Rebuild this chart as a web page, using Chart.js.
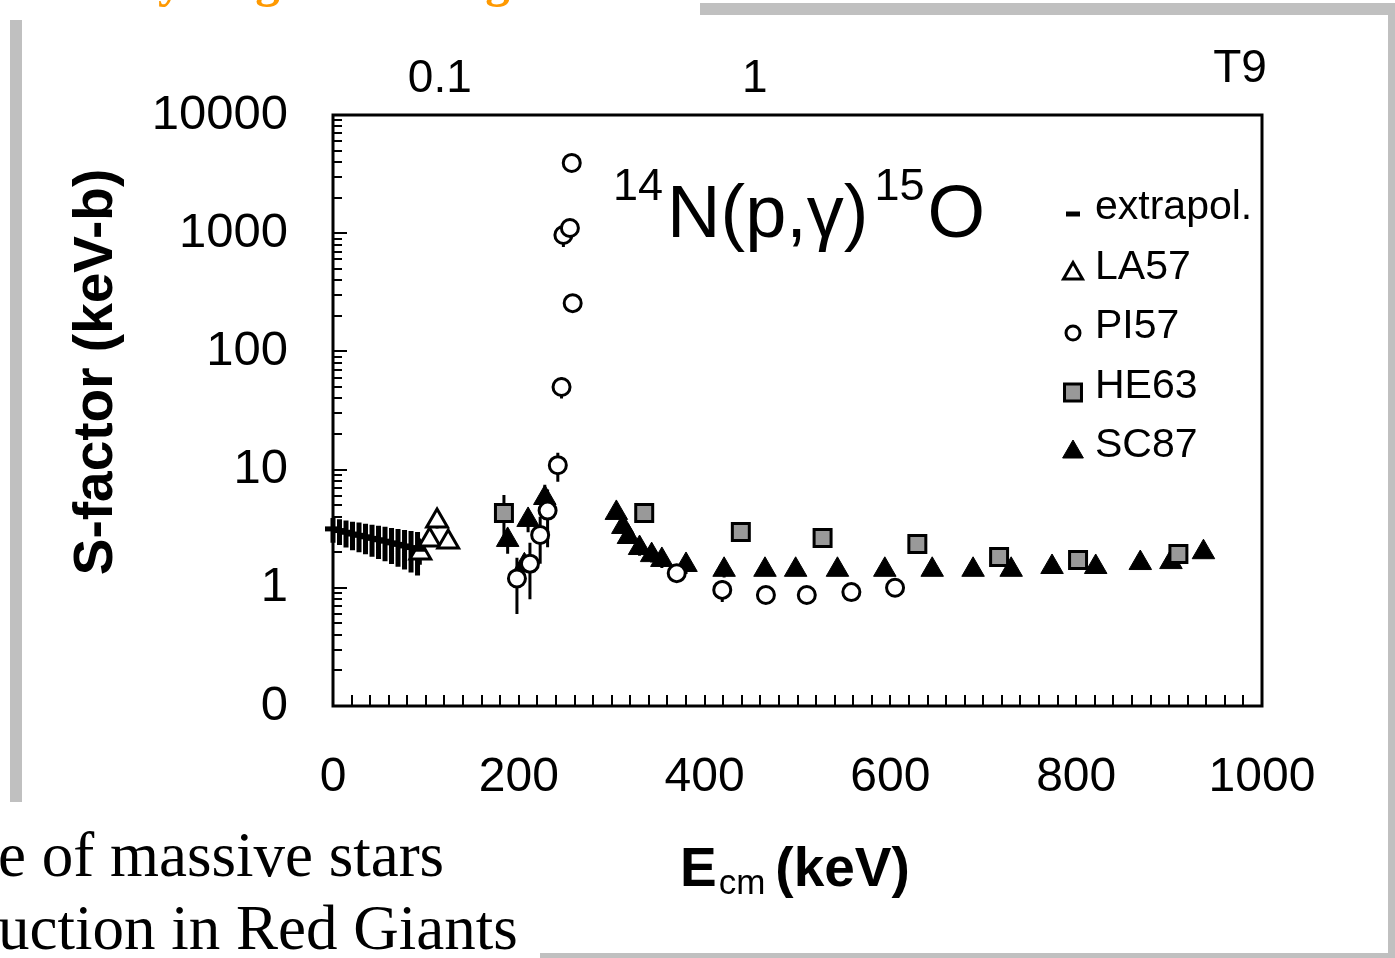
<!DOCTYPE html>
<html>
<head>
<meta charset="utf-8">
<script src="https://cdn.jsdelivr.net/npm/chart.js@4.4.0/dist/chart.umd.min.js"></script>
<style>
  html, body { margin: 0; padding: 0; background: #fff; }
  #page { position: relative; width: 1395px; height: 958px; overflow: hidden; }
  #graph { position: absolute; left: 0; top: 0; }
  .bar { position: absolute; background: #c0c0c0; }
  .slide { position: absolute; font-family: "Liberation Serif", "Times New Roman", serif; color: #000; white-space: nowrap; line-height: 1; }
</style>
</head>
<body>
<div id="page">
  <div class="bar" style="left:700px;top:3px;width:695px;height:12px"></div>
  <div class="bar" style="left:1388px;top:3px;width:7px;height:955px"></div>
  <div class="bar" style="left:10px;top:20px;width:12px;height:782px"></div>
  <div class="bar" style="left:540px;top:953px;width:855px;height:5px"></div>
  <div class="slide" style="left:120px;top:-44px;font-size:49px;font-weight:bold;color:#ff9900">Hydrogen burning</div>
  <div class="slide" style="left:-2px;top:824px;font-size:63px">e of massive stars</div>
  <div class="slide" style="left:-2px;top:897px;font-size:63px">uction in Red Giants</div>
  <canvas id="graph" width="1395" height="958"></canvas>
</div>
<script>
// Ecm in keV, S-factor in keV-b
var extrapolE = [0, 7, 14, 21, 28, 35, 42, 49, 56, 63, 70, 77, 84, 91];
var extrapolS = [3.15, 3.05, 2.95, 2.85, 2.78, 2.7, 2.62, 2.55, 2.48, 2.4, 2.33, 2.26, 2.19, 2.12];
var extrapolErr = [0.75, 0.75, 0.76, 0.77, 0.78, 0.78, 0.79, 0.8, 0.8, 0.81, 0.82, 0.83, 0.84, 0.85];

var la57E = [94, 104, 112, 124];
var la57S = [1.97, 2.54, 3.67, 2.44];
var la57Err = [0.4, 0, 0.5, 0];

var pi57E = [198, 212, 223, 231, 242, 246, 248, 255, 257, 258, 370, 419, 466, 510, 558, 605];
var pi57S = [1.2, 1.6, 2.8, 4.5, 10.9, 50, 966, 1107, 3930, 256, 1.33, 0.96, 0.87, 0.87, 0.92, 1.0];
var pi57Err = [0.6, 0.8, 1.2, 2.3, 3, 10, 200, 0, 0, 0, 0, 0.2, 0, 0, 0, 0];

var he63E = [184, 335, 439, 527, 629, 717, 802, 910];
var he63S = [4.3, 4.3, 2.96, 2.64, 2.35, 1.82, 1.72, 1.93];
var he63Err = [1.8, 0, 0, 0, 0, 0, 0, 0];

var sc87E = [188, 206, 210, 228, 305, 312, 318, 330, 343, 354, 380, 421, 465, 498, 543, 594, 645, 689, 730, 774, 821, 869, 902, 937];
var sc87S = [2.54, 1.55, 3.75, 5.75, 4.3, 3.27, 2.69, 2.17, 1.89, 1.72, 1.56, 1.42, 1.42, 1.42, 1.42, 1.42, 1.42, 1.42, 1.42, 1.5, 1.5, 1.62, 1.65, 2.0];
var sc87Err = [0.6, 0, 0.8, 1.7, 0.4, 0.3, 0.3, 0.3, 0.25, 0.25, 0.25, 0.2, 0, 0, 0, 0, 0, 0, 0, 0, 0, 0, 0, 0];

var xTickVals = [0, 200, 400, 600, 800, 1000];
var xTickLabels = ['0', '200', '400', '600', '800', '1000'];
var yTickVals = [0.1, 1, 10, 100, 1000, 10000];
var yTickLabels = ['0', '1', '10', '100', '1000', '10000'];
// T9 scale on top, placed at the matching Gamow energy
var t9TickE = [115, 454];
var t9TickLabels = ['0.1', '1'];

var sans = '"Liberation Sans", Arial, sans-serif';

function points(xs, ys) {
    var pts = [];
    for (var i = 0; i < xs.length; i++) {
        pts.push({ x: xs[i], y: ys[i] });
    }
    return pts;
}

function marker(label, xs, ys, errs, style, radius, fill, border, legendRadius) {
    return {
        label: label,
        data: points(xs, ys),
        errors: errs,
        pointStyle: style,
        pointRadius: radius,
        pointHoverRadius: radius,
        pointBackgroundColor: fill,
        pointBorderColor: '#000',
        pointBorderWidth: border,
        backgroundColor: fill,
        borderColor: '#000',
        legendRadius: legendRadius,
        legendBorder: border,
        showLine: false,
        clip: false
    };
}

var datasets = [
    marker('extrapol.', extrapolE, extrapolS, extrapolErr, 'line', 8, '#000', 5, 7),
    marker('LA57', la57E, la57S, la57Err, 'triangle', 12, '#fff', 3, 11),
    marker('PI57', pi57E, pi57S, pi57Err, 'circle', 8.5, '#fff', 3, 7),
    marker('HE63', he63E, he63S, he63Err, 'rect', 12, '#999999', 3, 12),
    marker('SC87', sc87E, sc87S, sc87Err, 'triangle', 13, '#000', 1, 12)
];

var decor = {
    id: 'decor',
    beforeDatasetsDraw: function (chart) {
        var ctx = chart.ctx;
        var a = chart.chartArea;
        var xs = chart.scales.x;
        var ys = chart.scales.y;
        ctx.save();
        ctx.strokeStyle = '#000';
        ctx.lineWidth = 3;
        ctx.strokeRect(a.left, a.top, a.right - a.left, a.bottom - a.top);

        // inward ticks
        ctx.lineWidth = 2;
        ctx.beginPath();
        for (var e = 20; e < 1000; e += 20) {
            var px = Math.round(xs.getPixelForValue(e));
            ctx.moveTo(px, a.bottom);
            ctx.lineTo(px, a.bottom - 11);
        }
        for (var d = 0.1; d < 5000; d *= 10) {
            for (var m = 1; m <= 9; m++) {
                if (d < 0.5 && m === 1) continue;
                var py = Math.round(ys.getPixelForValue(d * m));
                ctx.moveTo(a.left, py);
                ctx.lineTo(a.left + (m === 1 ? 14 : 9), py);
            }
        }
        ctx.stroke();

        // error bars
        chart.data.datasets.forEach(function (ds) {
            ctx.lineWidth = ds.pointStyle === 'line' ? 5 : 3;
            ctx.beginPath();
            ds.data.forEach(function (p, j) {
                var err = ds.errors[j];
                if (!err) return;
                var x = xs.getPixelForValue(p.x);
                ctx.moveTo(x, ys.getPixelForValue(p.y + err));
                ctx.lineTo(x, ys.getPixelForValue(Math.max(p.y - err, 0.11)));
            });
            ctx.stroke();
        });
        ctx.restore();
    },
    afterDatasetsDraw: function (chart) {
        var ctx = chart.ctx;
        var a = chart.chartArea;
        ctx.save();
        ctx.fillStyle = '#000';
        ctx.textBaseline = 'alphabetic';
        ctx.textAlign = 'left';

        // reaction title
        var tx = a.left + 280;
        ctx.font = '45px ' + sans;
        ctx.fillText('14', tx, a.top + 85);
        tx += ctx.measureText('14').width + 4;
        ctx.font = '74px ' + sans;
        ctx.fillText('N(p,\u03b3)', tx, a.top + 122);
        tx += ctx.measureText('N(p,\u03b3)').width + 6;
        ctx.font = '45px ' + sans;
        ctx.fillText('15', tx, a.top + 85);
        tx += ctx.measureText('15').width + 3;
        ctx.font = '74px ' + sans;
        ctx.fillText('O', tx, a.top + 122);

        // legend
        var lx = a.left + 740;
        var ly = a.top + 93;
        var drawPoint = Chart.helpers && Chart.helpers.drawPoint;
        ctx.font = '41px ' + sans;
        ctx.textBaseline = 'middle';
        chart.data.datasets.forEach(function (ds, i) {
            var y = ly + i * 59.5;
            ctx.fillStyle = ds.backgroundColor;
            ctx.strokeStyle = ds.borderColor;
            ctx.lineWidth = ds.pointStyle === 'line' ? 5 : ds.legendBorder;
            if (drawPoint) {
                drawPoint(ctx, { pointStyle: ds.pointStyle, radius: ds.legendRadius, rotation: 0, borderWidth: ctx.lineWidth }, lx, y + 6);
            }
            ctx.fillStyle = '#000';
            ctx.fillText(ds.label, lx + 22, y);
        });

        // T9 label
        ctx.font = '46px ' + sans;
        ctx.textAlign = 'center';
        ctx.textBaseline = 'alphabetic';
        ctx.fillText('T9', a.right - 22, a.top - 33);

        // x axis title
        var ex = 680;
        ctx.textAlign = 'left';
        ctx.font = 'bold 55px ' + sans;
        ctx.fillText('E', ex, 886);
        ex += ctx.measureText('E').width + 2;
        ctx.font = '35px ' + sans;
        ctx.fillText('cm', ex, 894);
        ex += ctx.measureText('cm').width + 10;
        ctx.font = 'bold 55px ' + sans;
        ctx.fillText('(keV)', ex, 886);

        // y axis title
        ctx.translate(97, 372);
        ctx.rotate(-Math.PI / 2);
        ctx.textAlign = 'center';
        ctx.textBaseline = 'middle';
        ctx.font = 'bold 55px ' + sans;
        ctx.fillText('S-factor (keV-b)', 0, 0);
        ctx.restore();
    }
};

var ctx = document.getElementById('graph').getContext('2d');

var graphique = new Chart(ctx, {
    type: 'scatter',
    data: { datasets: datasets },
    options: {
        responsive: false,
        animation: false,
        events: [],
        layout: { padding: { left: 0, right: 133, top: 0, bottom: 0 } },
        plugins: {
            legend: { display: false },
            tooltip: { enabled: false }
        },
        scales: {
            x: {
                type: 'linear',
                position: 'bottom',
                min: 0,
                max: 1000,
                grid: { display: false, drawTicks: false },
                border: { display: false },
                afterBuildTicks: function (scale) {
                    scale.ticks = xTickVals.map(function (v) { return { value: v }; });
                },
                afterFit: function (scale) { scale.height = 252; },
                ticks: {
                    autoSkip: false,
                    maxRotation: 0,
                    minRotation: 0,
                    padding: 43,
                    color: '#000',
                    font: { family: sans, size: 48 },
                    callback: function (value, index) { return xTickLabels[index]; }
                }
            },
            x2: {
                type: 'linear',
                position: 'top',
                min: 0,
                max: 1000,
                grid: { display: false, drawTicks: false },
                border: { display: false },
                afterBuildTicks: function (scale) {
                    scale.ticks = t9TickE.map(function (v) { return { value: v }; });
                },
                afterFit: function (scale) { scale.height = 115; },
                ticks: {
                    autoSkip: false,
                    maxRotation: 0,
                    minRotation: 0,
                    padding: 8,
                    color: '#000',
                    font: { family: sans, size: 46 },
                    callback: function (value, index) { return t9TickLabels[index]; }
                }
            },
            y: {
                type: 'logarithmic',
                position: 'left',
                min: 0.1,
                max: 10000,
                grid: { display: false, drawTicks: false },
                border: { display: false },
                afterBuildTicks: function (scale) {
                    scale.ticks = yTickVals.map(function (v) { return { value: v }; });
                },
                afterFit: function (scale) { scale.width = 333; },
                ticks: {
                    padding: 45,
                    color: '#000',
                    font: { family: sans, size: 49 },
                    callback: function (value, index) { return yTickLabels[index]; }
                }
            }
        }
    },
    plugins: [decor]
});
</script>
</body>
</html>
